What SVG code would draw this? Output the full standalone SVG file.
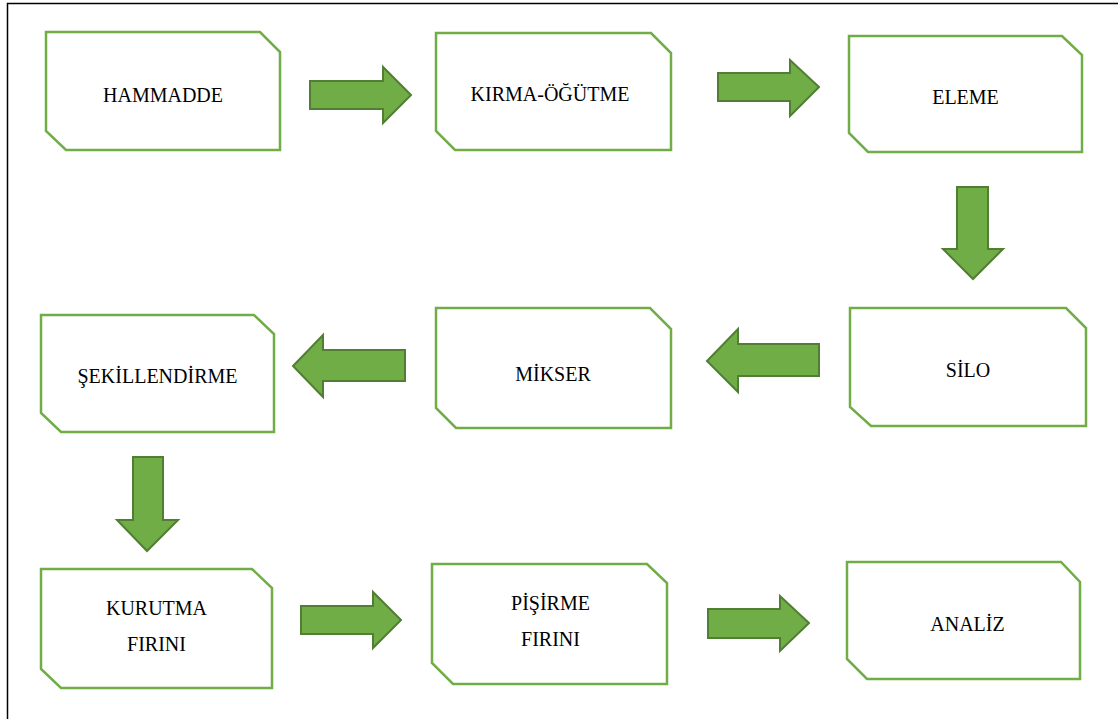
<svg xmlns="http://www.w3.org/2000/svg" width="1118" height="719" viewBox="0 0 1118 719">
<style>
.box{fill:#fff;stroke:#70AD47;stroke-width:2.5;stroke-linejoin:miter}
.arr{fill:#70AD47;stroke:#507E32;stroke-width:2;stroke-linejoin:miter}
.t{font-size:20px;fill:#000;text-anchor:middle}
.frame{stroke:#000;stroke-width:1.5;fill:none}
</style>
<rect x="0" y="0" width="1118" height="719" fill="#fff"/>
<path class="frame" d="M7.5,719 V3.5 H1118"/>
<g id="connectors">
<polygon class="arr" points="310,81 383,81 383,67 411,95 383,123 383,109 310,109"/>
<polygon class="arr" points="718,73 790,73 790,60 819,87 790,116 790,101 718,101"/>
<polygon class="arr" points="957,187 988,187 988,249 1003,249 973,279 943,249 957,249"/>
<polygon class="arr" points="819,344 738,344 738,329 707,361 738,392 738,376 819,376"/>
<polygon class="arr" points="405,350 323,350 323,335 293,366 323,397 323,381 405,381"/>
<polygon class="arr" points="133,457 163,457 163,520 178,520 147,551 117,520 133,520"/>
<polygon class="arr" points="301,606 373,606 373,592 401,620 373,648 373,634 301,634"/>
<polygon class="arr" points="708,609 780,609 780,596 809,623 780,651 780,638 708,638"/>
</g>
<g font-family="'Liberation Serif', 'DejaVu Serif', serif">
<g id="hammadde">
<polygon class="box" points="46,32 260,32 280,52 280,150 66,150 46,131"/>
<text class="t" x="163" y="101.5">HAMMADDE</text>
</g>
<g id="kirma">
<polygon class="box" points="436,33 651,33 671,53 671,150 455,150 436,131"/>
<text class="t" x="550" y="101">KIRMA-ÖĞÜTME</text>
</g>
<g id="eleme">
<polygon class="box" points="849,36 1062,36 1082,55 1082,152 868,152 849,133"/>
<text class="t" x="965.5" y="104">ELEME</text>
</g>
<g id="silo">
<polygon class="box" points="850,308 1066,308 1086,328 1086,426 871,426 850,407"/>
<text class="t" x="968" y="376.5">SİLO</text>
</g>
<g id="mikser">
<polygon class="box" points="436,308 650,308 671,329 671,428 456,428 436,408"/>
<text class="t" x="553" y="380.5">MİKSER</text>
</g>
<g id="sekillendirme">
<polygon class="box" points="41,315 254,315 274,334 274,432 61,432 41,413"/>
<text class="t" x="157.5" y="383">ŞEKİLLENDİRME</text>
</g>
<g id="kurutma">
<polygon class="box" points="41,569 252,569 272,588 272,688 61,688 41,669"/>
<text class="t" x="156.5" y="615">KURUTMA</text>
<text class="t" x="156.5" y="651">FIRINI</text>
</g>
<g id="pisirme">
<polygon class="box" points="432,564 647,564 667,583 667,684 453,684 432,663"/>
<text class="t" x="550.5" y="610">PİŞİRME</text>
<text class="t" x="550.5" y="646">FIRINI</text>
</g>
<g id="analiz">
<polygon class="box" points="847,562 1061,562 1080,582 1080,679 867,679 847,659"/>
<text class="t" x="967.5" y="631">ANALİZ</text>
</g>
</g>
</svg>
